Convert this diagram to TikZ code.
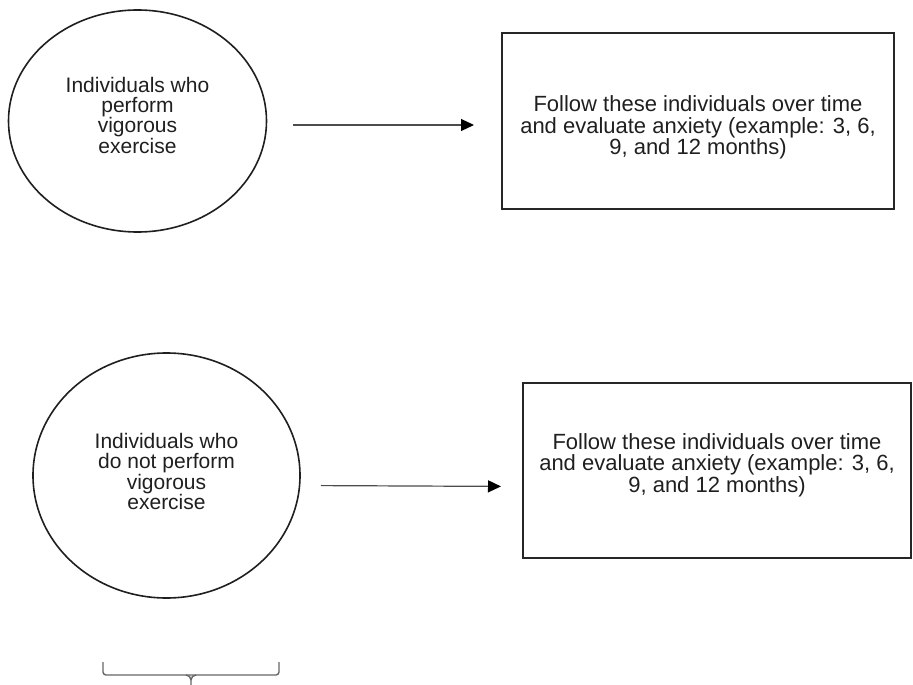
\documentclass[tikz,border=0pt]{standalone}
\usepackage{fontspec}
\setmainfont{Liberation Sans}
\usetikzlibrary{shapes.geometric,arrows.meta}
\begin{document}
\begin{tikzpicture}[x=1pt,y=-1pt,
  ovaltxt/.style={font=\fontsize{21pt}{20.5pt}\selectfont, text=black!88, align=center},
  boxtxt/.style={font=\fontsize{22pt}{21.7pt}\selectfont, text=black!88, align=center},
  oval/.style={ellipse, draw=black!88, line width=1.6pt, inner sep=0pt, ovaltxt},
  boxnode/.style={rectangle, draw=black!85, line width=2pt, inner sep=0pt, boxtxt},
  arr/.style={draw=black!70, line width=1.2pt, -{Triangle[length=13pt,width=12pt,color=black]}},
  bracket/.style={draw=black!60, line width=1.4pt}]
\useasboundingbox (0,0) rectangle (913,685);

\node[oval, minimum width=258pt, minimum height=222pt, font=\fontsize{21pt}{19.5pt}\selectfont] (e1) at (137.5,121)
  {Individuals who\\perform\\vigorous\\exercise\rule[-11pt]{0pt}{11pt}};
\node[boxnode, minimum width=392pt, minimum height=176pt] (b1) at (698,121)
  {\rule{0pt}{29pt}Follow these individuals over time\\and evaluate anxiety (example: 3, 6,\\9, and 12 months)};

\node[oval, minimum width=267pt, minimum height=245pt] (e2) at (166.5,475.5)
  {Individuals who\\do not perform\\vigorous\\exercise\rule[-8pt]{0pt}{8pt}};
\node[boxnode, minimum width=388pt, minimum height=175pt] (b2) at (717,470.5)
  {Follow these individuals over time\\and evaluate anxiety (example: 3, 6,\\9, and 12 months)\rule[-15pt]{0pt}{15pt}};

\draw[arr, shorten <=26pt, shorten >=27pt] ([yshift=-4pt]e1.east) -- ([yshift=-4pt]b1.west);
\draw[arr, shorten <=20pt, shorten >=21pt] ([yshift=-10pt]e2.east) -- ([yshift=-16pt]b2.west);

\coordinate (bl) at (103,662);
\coordinate (br) at (279,662);
\coordinate (bt) at (191,685);
\draw[bracket, rounded corners=3pt] (bl) |- (br |- 0,675) -- (br);
\draw[bracket] (186,675) to[out=0,in=90] (bt |- 0,680) -- (bt);
\draw[bracket] (196,675) to[out=180,in=90] (bt |- 0,680);
\end{tikzpicture}
\end{document}
